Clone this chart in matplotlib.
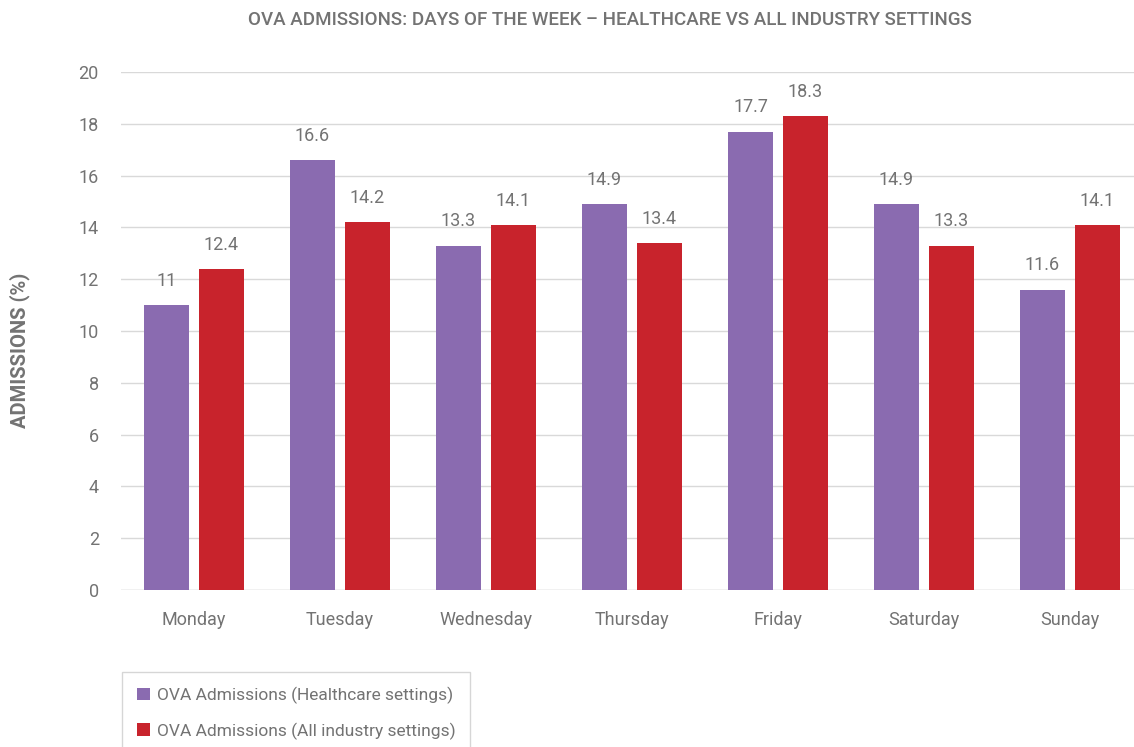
import matplotlib
matplotlib.use("Agg")
import matplotlib.pyplot as plt
from matplotlib import font_manager
from matplotlib.patches import Patch
import numpy as np

days = ["Monday", "Tuesday", "Wednesday", "Thursday", "Friday", "Saturday", "Sunday"]
healthcare = [11, 16.6, 13.3, 14.9, 17.7, 14.9, 11.6]
all_industry = [12.4, 14.2, 14.1, 13.4, 18.3, 13.3, 14.1]
healthcare_labels = ["11", "16.6", "13.3", "14.9", "17.7", "14.9", "11.6"]
all_industry_labels = ["12.4", "14.2", "14.1", "13.4", "18.3", "13.3", "14.1"]
series_names = ["OVA Admissions (Healthcare settings)", "OVA Admissions (All industry settings)"]
yticks = [0, 2, 4, 6, 8, 10, 12, 14, 16, 18, 20]

names = {f.name for f in font_manager.fontManager.ttflist}
family = "Liberation Sans Narrow" if "Liberation Sans Narrow" in names else "Roboto"
plt.rcParams["font.family"] = [family, "DejaVu Sans"]

PURPLE = "#8A6BB0"
RED = "#C8232C"
GREY = "#737373"
GRID = "#D9D9D9"

W, H = 1134, 747
fig = plt.figure(figsize=(W / 100, H / 100), dpi=100)
# axes spans from x=121 to x=1143 px, y=72 (20) to y=590 (0)
ax = fig.add_axes([121 / W, (H - 590) / H, (1143 - 121) / W, (590 - 72) / H])

x = np.arange(len(days))
bw = 45 / 146
off = 27.5 / 146
b1 = ax.bar(x - off, healthcare, bw, color=PURPLE, zorder=3)
b2 = ax.bar(x + off, all_industry, bw, color=RED, zorder=3)

for bars, labels in ((b1, healthcare_labels), (b2, all_industry_labels)):
    for rect, lab in zip(bars, labels):
        ax.annotate(lab, (rect.get_x() + rect.get_width() / 2, rect.get_height()),
                    xytext=(0, 11), textcoords="offset points", ha="center", va="bottom",
                    fontsize=13, color=GREY)

ax.set_xlim(-0.5, len(days) - 0.5)
ax.set_ylim(0, 20)
ax.set_yticks(yticks)
ax.set_yticklabels([str(t) for t in yticks])
ax.set_xticks(x)
ax.set_xticklabels(days)
ax.tick_params(axis="both", length=0, labelsize=13, labelcolor=GREY)
ax.tick_params(axis="y", pad=16)
ax.tick_params(axis="x", pad=15)
ax.grid(axis="y", color=GRID, linewidth=1, zorder=0)
for s in ax.spines.values():
    s.set_visible(False)
ax.axhline(0, color=GRID, linewidth=1, zorder=2)

fig.text(20 / W, 1 - 350 / H, "ADMISSIONS (%)", rotation=90, ha="center", va="center",
         fontsize=14.5, fontweight="bold", color=GREY)
fig.text(610 / W, 1 - 20 / H, "OVA ADMISSIONS: DAYS OF THE WEEK \u2013 HEALTHCARE VS ALL INDUSTRY SETTINGS",
         ha="center", va="center", fontsize=13.5, fontweight="medium", color=GREY)

handles = [Patch(facecolor=PURPLE), Patch(facecolor=RED)]
leg = fig.legend(handles, series_names, loc="upper left",
                 bbox_to_anchor=(122 / W, 1 - 672 / H), fontsize=12.5,
                 frameon=True, fancybox=False, edgecolor="#CCCCCC",
                 handlelength=0.75, handleheight=0.75, handletextpad=0.4,
                 labelspacing=1.05, borderpad=0.85, borderaxespad=0)
for t in leg.get_texts():
    t.set_color(GREY)

fig.savefig("out.png", dpi=100)
